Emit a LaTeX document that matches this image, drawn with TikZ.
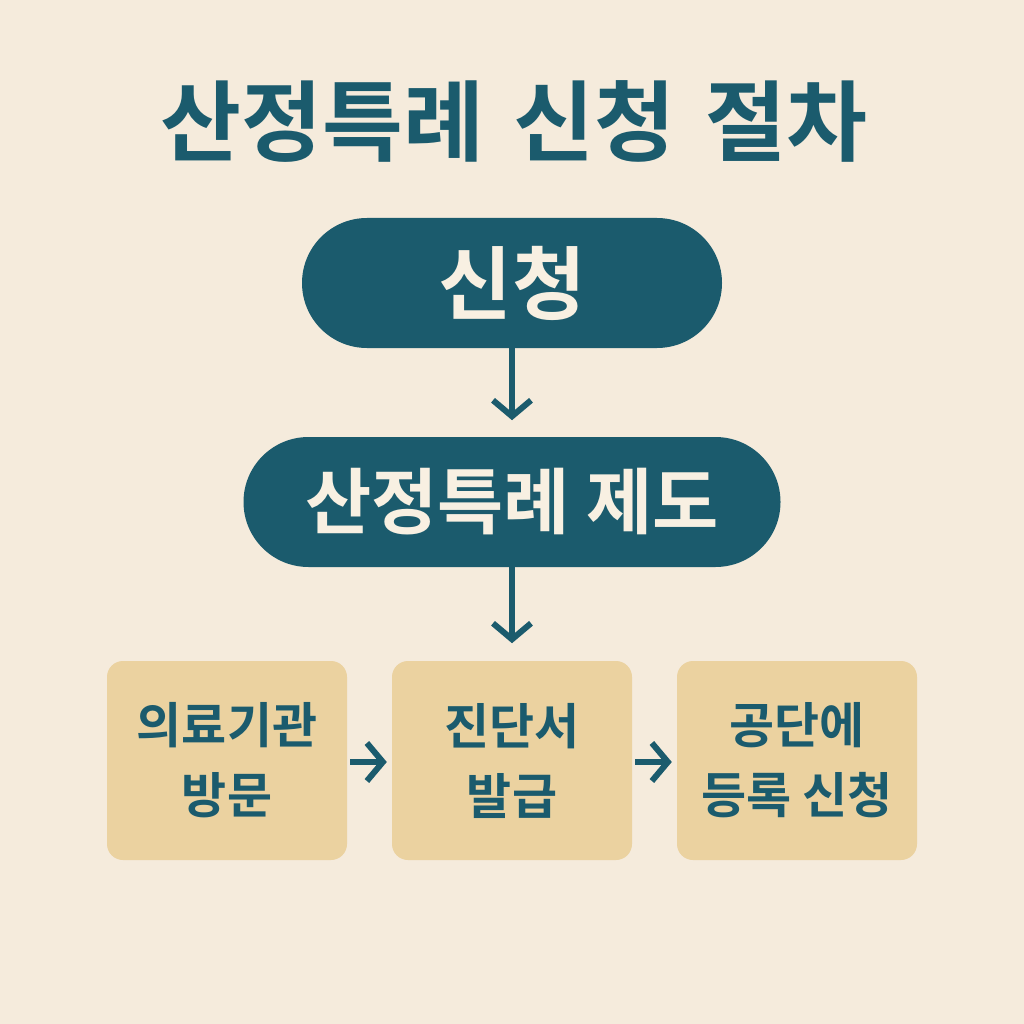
\documentclass[tikz,border=0pt]{standalone}
\usepackage{fontspec}
\newfontfamily\kr{Noto Sans CJK KR Bold}
\usetikzlibrary{arrows.meta}
\definecolor{bg}{RGB}{245,235,220}
\definecolor{teal}{RGB}{27,91,109}
\definecolor{sand}{RGB}{235,210,160}
\definecolor{cream}{RGB}{248,240,226}
\tikzset{
 pill/.style={fill=teal,rounded corners=65pt,minimum height=130pt,text=cream},
 card/.style={fill=sand,rounded corners=16pt,minimum width=240pt,minimum height=199pt,text=teal,align=center,font=\kr\fontsize{49}{70}\selectfont},
 arr/.style={draw=teal,line width=6pt,-{Straight Barb[length=16pt,width=38pt,line width=6pt]}}
}
\begin{document}
\begin{tikzpicture}[x=1pt,y=-1pt]
\fill[bg] (0,0) rectangle (1024,1024);
\useasboundingbox (0,0) rectangle (1024,1024);
\node[text=teal,font=\kr\fontsize{88}{92}\selectfont] (title) at (514,122) {산정특례\hspace{10pt} 신청\hspace{10pt} 절차};
\node[pill,minimum width=420pt,font=\kr\fontsize{80}{84}\selectfont] (p1) at (512,283) {신청};
\node[pill,minimum width=537pt,font=\kr\fontsize{72}{76}\selectfont] (p2) at (512,502) {산정특례 제도};
\node[card] (c1) at (227,760.5) {의료기관\\방문};
\node[card] (c2) at (512,760.5) {진단서\\발급};
\node[card] (c3) at (797,760.5) {공단에\\등록 신청};
\draw[arr] (p1.south) -- ++(0,72);
\draw[arr] (p2.south) -- ++(0,76);
\draw[arr] ([xshift=3pt]c1.east |- 0,762) -- ([xshift=-5pt]c2.west |- 0,762);
\draw[arr] ([xshift=3pt]c2.east |- 0,762) -- ([xshift=-5pt]c3.west |- 0,762);
\end{tikzpicture}
\end{document}
